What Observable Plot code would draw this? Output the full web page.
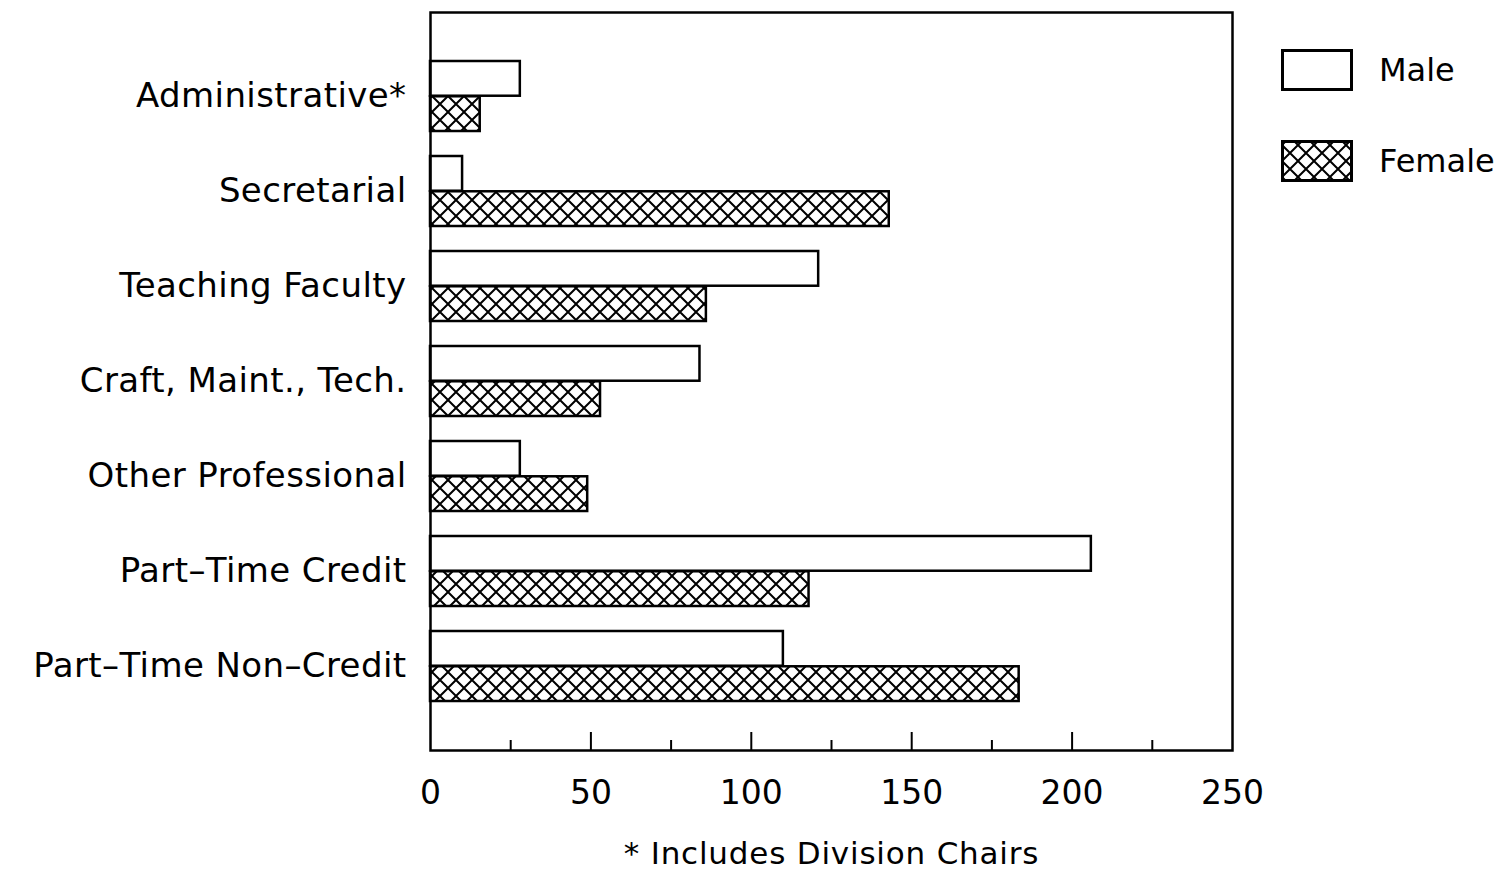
<!DOCTYPE html>
<html>
<head>
<meta charset="utf-8">
<script src="https://cdn.jsdelivr.net/npm/d3@7"></script>
<script src="https://cdn.jsdelivr.net/npm/@observablehq/plot@0.6"></script>
<style>
  html, body { margin: 0; padding: 0; background: #fff; }
  #wrap { position: relative; width: 1510px; height: 873px; font-family: "DejaVu Sans", sans-serif; }
  .legend { position: absolute; left: 1281px; font-size: 32px; color: #000; display: flex; align-items: center; }
  .legend svg { margin-right: 26px; }
</style>
</head>
<body>
<div id="wrap"></div>
<script>
const categories = ["Administrative*", "Secretarial", "Teaching Faculty", "Craft, Maint., Tech.", "Other Professional", "Part\u2013Time Credit", "Part\u2013Time Non\u2013Credit"];
const maleValues = [28, 10, 121, 84, 28, 206, 110];
const femaleValues = [15.5, 143, 86, 53, 49, 118, 183.5];
const majorTicks = [0, 50, 100, 150, 200, 250];
const minorTicks = [25, 75, 125, 175, 225];
const caption = "* Includes Division Chairs";

const male = categories.map((c, i) => ({category: c, value: maleValues[i]}));
const female = categories.map((c, i) => ({category: c, value: femaleValues[i]}));

const W = 1510, H = 873;
const mL = 430, mR = 278, mT = 12, mB = 123;
const frameH = H - mT - mB;
const padInner = 0.26, padOuter = 0.5;
const step = frameH / (categories.length - padInner + 2 * padOuter);
const half = step * (1 - padInner) / 2;

const plot = Plot.plot({
  width: W,
  height: H,
  marginLeft: mL,
  marginRight: mR,
  marginTop: mT,
  marginBottom: mB,
  style: {fontFamily: "DejaVu Sans, sans-serif", color: "#000", background: "#fff"},
  x: {domain: [0, 250]},
  y: {domain: categories, paddingInner: padInner, paddingOuter: padOuter},
  marks: [
    Plot.barX(male, {x: "value", y: "category", fill: "white", stroke: "black", strokeWidth: 2.5, insetBottom: half, insetTop: 0}),
    Plot.barX(female, {x: "value", y: "category", fill: "url(#xhatch)", stroke: "black", strokeWidth: 2.5, insetTop: half, insetBottom: 0}),
    Plot.ruleX(majorTicks.slice(1, -1), {stroke: "black", strokeWidth: 2, insetTop: frameH - 18}),
    Plot.ruleX(minorTicks, {stroke: "black", strokeWidth: 2, insetTop: frameH - 10}),
    Plot.frame({stroke: "black", strokeWidth: 2.5}),
    Plot.axisX({ticks: majorTicks, tickSize: 0, tickPadding: 30, fontSize: 33, label: caption, labelArrow: "none", labelAnchor: "center", labelOffset: 113, tickFormat: d => d}),
    Plot.axisY({tickSize: 0, tickPadding: 24, fontSize: 34, label: null})
  ]
});

const defs = d3.select(plot).insert("defs", ":first-child");
const pat = defs.append("pattern")
  .attr("id", "xhatch").attr("patternUnits", "userSpaceOnUse")
  .attr("width", 16).attr("height", 16).attr("y", mT + 4);
pat.append("rect").attr("width", 16).attr("height", 16).attr("fill", "white");
pat.append("path").attr("d", "M0,0L16,16M16,0L0,16").attr("stroke", "black").attr("stroke-width", 2);

const sel = d3.select(plot);
sel.selectAll("text").filter(function(){ return this.textContent.trim() === caption; })
  .attr("font-size", 31).attr("letter-spacing", "0.8px");
sel.selectAll("text").filter(function(){ return categories.includes(this.textContent.trim()); })
  .attr("letter-spacing", "0.4px");

const wrap = document.getElementById("wrap");
wrap.appendChild(plot);

function legendItem(label, fill, top) {
  const div = document.createElement("div");
  div.className = "legend";
  div.style.top = top + "px";
  div.innerHTML = `<svg width="72" height="42"><defs><pattern id="lh${label}" patternUnits="userSpaceOnUse" width="16" height="16" x="1" y="5"><rect width="16" height="16" fill="white"/><path d="M0,0L16,16M16,0L0,16" stroke="black" stroke-width="2"/></pattern></defs><rect x="1.5" y="1.5" width="69" height="39" fill="${fill === 'hatch' ? 'url(#lh' + label + ')' : 'white'}" stroke="black" stroke-width="3"/></svg><span>${label}</span>`;
  wrap.appendChild(div);
}
legendItem("Male", "white", 49);
legendItem("Female", "hatch", 140);
</script>
</body>
</html>
